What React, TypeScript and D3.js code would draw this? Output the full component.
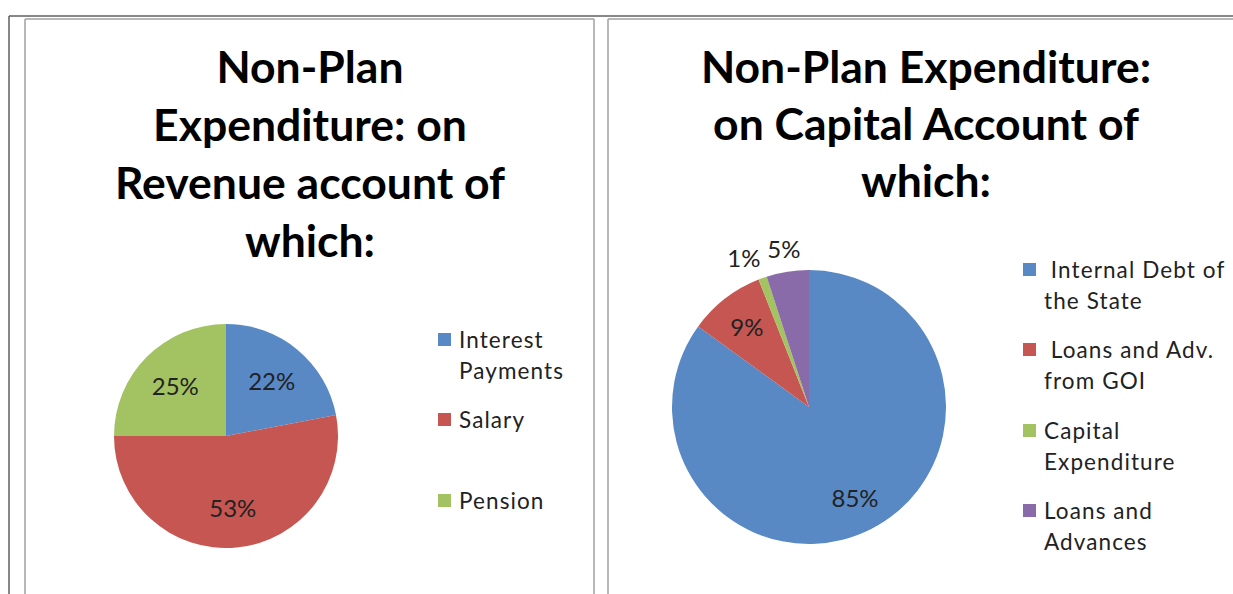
import React from "react";
import * as d3 from "d3";

const revCategories = ["Interest Payments", "Salary", "Pension"];
const revValues = [22, 53, 25];
const revLegendLines = [["Interest", "Payments"], ["Salary"], ["Pension"]];
const revTitle = ["Non-Plan", "Expenditure: on", "Revenue account of", "which:"];

const capCategories = ["Internal Debt of the State", "Loans and Adv. from GOI", "Capital Expenditure", "Loans and Advances"];
const capValues = [85, 9, 1, 5];
const capLegendLines = [[" Internal Debt of", "the State"], [" Loans and Adv.", "from GOI"], ["Capital", "Expenditure"], ["Loans and", "Advances"]];
const capTitle = ["Non-Plan Expenditure:", "on Capital Account of", "which:"];

const colors = ["#5889C5", "#C55651", "#A3C262", "#8A6BAA"];

const FONT = "Lato, 'Open Sans', sans-serif";

type PieProps = {
  cx: number; cy: number; r: number; values: number[]; labelFactor: number; outsideBelow: number;
};

function Pie({ cx, cy, r, values, labelFactor, outsideBelow }: PieProps) {
  const pie = d3.pie<number>().sort(null).value((d) => d);
  const arcs = pie(values);
  const arc = d3.arc<d3.PieArcDatum<number>>().innerRadius(0).outerRadius(r);
  const labelArc = d3.arc<d3.PieArcDatum<number>>().innerRadius(r * labelFactor).outerRadius(r * labelFactor);
  const outArc = d3.arc<d3.PieArcDatum<number>>().innerRadius(r * 1.17).outerRadius(r * 1.17);
  const total = d3.sum(values);
  const pos = arcs.map((a) => {
    const small = a.data / total * 100 < outsideBelow;
    const c = small ? outArc.centroid(a) : labelArc.centroid(a);
    return { x: c[0], y: c[1], small };
  });
  // resolve overlap among outside labels: push earlier ones left
  const lw = 32;
  for (let i = pos.length - 2; i >= 0; i--) {
    const p = pos[i], q = pos[i + 1];
    if (p.small && q.small && p.x + lw / 2 > q.x - lw / 2 - 10) {
      p.x = q.x - lw - 8;
      p.y = q.y + 9;
    }
  }
  return (
    <g transform={`translate(${cx},${cy})`}>
      {arcs.map((a, i) => (
        <path key={i} d={arc(a) || ""} fill={colors[i]} />
      ))}
      {arcs.map((a, i) => (
        <text key={"t" + i} x={pos[i].x} y={pos[i].y} textAnchor="middle" dominantBaseline="central"
          fontFamily={FONT} fontSize={24} fill="#222">{`${a.data}%`}</text>
      ))}
    </g>
  );
}

function Legend({ x, tops, lines }: { x: number; tops: number[]; lines: string[][] }) {
  return (
    <g>
      {lines.map((ls, i) => (
        <g key={i}>
          <rect x={x} y={tops[i] - 15} width={13} height={13} fill={colors[i]} />
          {ls.map((l, j) => (
            <text key={j} x={x + 21} y={tops[i] + j * 31} fontFamily={FONT} fontSize={22.5} letterSpacing={1.1} fill="#222" style={{ whiteSpace: "pre" }}>{l}</text>
          ))}
        </g>
      ))}
    </g>
  );
}

export default function App() {
  return (
    <svg width={1233} height={594} style={{ position: "absolute", left: 0, top: 0, background: "#fff" }}>
      {/* table frame */}
      <line x1={9} y1={16} x2={1233} y2={16} stroke="#5f5f5f" strokeWidth={1.5} />
      <line x1={9} y1={16} x2={9} y2={594} stroke="#5f5f5f" strokeWidth={1.5} />
      <line x1={25} y1={19} x2={594} y2={19} stroke="#a0a0a0" strokeWidth={1.5} />
      <line x1={25} y1={19} x2={25} y2={594} stroke="#a0a0a0" strokeWidth={1.5} />
      <line x1={594} y1={19} x2={594} y2={594} stroke="#a0a0a0" strokeWidth={1.5} />
      <line x1={608} y1={19} x2={1233} y2={19} stroke="#a0a0a0" strokeWidth={1.5} />
      <line x1={608} y1={19} x2={608} y2={594} stroke="#a0a0a0" strokeWidth={1.5} />

      {/* titles */}
      {revTitle.map((t, i) => (
        <text key={i} x={310} y={83 + i * 58} textAnchor="middle" fontFamily={FONT} fontWeight="bold" fontSize={44.5} fill="#000">{t}</text>
      ))}
      {capTitle.map((t, i) => (
        <text key={i} x={926} y={83 + i * 57} textAnchor="middle" fontFamily={FONT} fontWeight="bold" fontSize={44.5} fill="#000">{t}</text>
      ))}

      <Pie cx={226} cy={436} r={112} values={revValues} labelFactor={0.64} outsideBelow={0} />
      <Pie cx={809} cy={407} r={137} values={capValues} labelFactor={0.74} outsideBelow={6} />

      <Legend x={438} tops={[348, 428, 509]} lines={revLegendLines} />
      <Legend x={1023} tops={[278, 358, 439, 519]} lines={capLegendLines} />
    </svg>
  );
}
